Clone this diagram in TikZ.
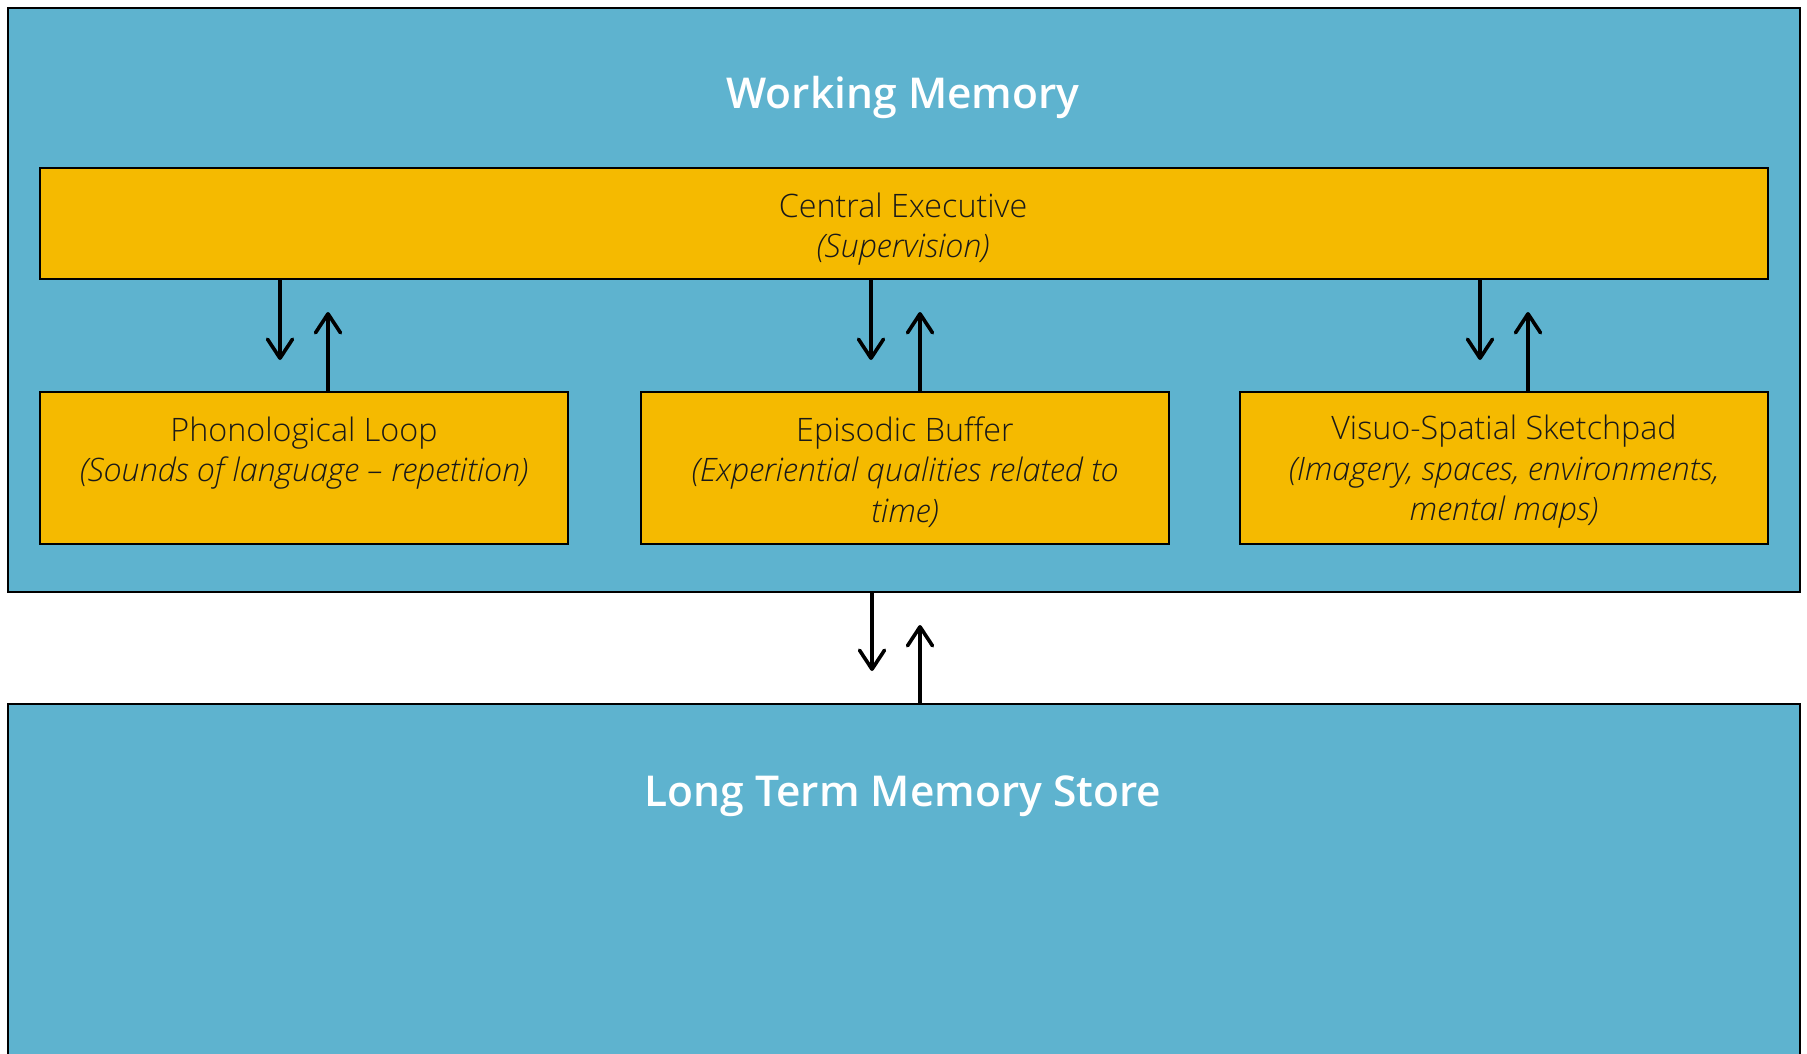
\documentclass[tikz,border=0pt]{standalone}
\usepackage{fontspec}
\setmainfont{Open Sans}
\newfontfamily\lightfont{Open Sans Light}
\newfontfamily\semifont{Open Sans Semibold}
\usetikzlibrary{arrows.meta}
\definecolor{wmblue}{RGB}{94,179,207}
\definecolor{boxyellow}{RGB}{245,186,0}
\definecolor{inktext}{RGB}{25,25,25}
\begin{document}
\begin{tikzpicture}[x=1pt,y=-1pt,
  outerbox/.style={draw=black, line width=2pt, fill=wmblue, inner sep=0pt, minimum width=1792pt},
  compbox/.style={draw=black, line width=2pt, fill=boxyellow, inner sep=0pt},
  comptext/.style={align=center, inner sep=0pt, text=inktext, font=\lightfont\fontsize{32.3}{40.5}\selectfont},
  titletext/.style={text=white, inner sep=0pt, font=\semifont\fontsize{42.5}{48}\selectfont},
  flow/.style={line width=3.6pt, -{Straight Barb[length=19pt,width=25pt,line width=3.6pt,round]}}]
\useasboundingbox (0,0) rectangle (1807,1054);
\clip (0,0) rectangle (1807,1054);
% outer boxes
\node[outerbox, minimum height=584pt] (wm) at (904,300) {};
\node[outerbox, minimum height=380pt] (ltm) at (904,894) {};
\node[titletext] (wmt) at (903,97) {Working Memory};
\node[titletext] (ltmt) at (903,796) {Long Term Memory Store};
% components
\node[compbox, minimum width=1728pt, minimum height=111pt] (ce) at (904,223.5) {};
\node[compbox, minimum width=528pt, minimum height=152pt] (pl) at (304,468) {};
\node[compbox, minimum width=528pt, minimum height=152pt] (eb) at (905,468) {};
\node[compbox, minimum width=528pt, minimum height=152pt] (vss) at (1504,468) {};
\node[comptext] (cet) at (903,229) {Central Executive\\\textit{(Supervision)}};
\node[comptext] (plt) at (304,453) {Phonological Loop\\\textit{(Sounds of language – repetition)}};
\node[comptext] (ebt) at (905,472) {Episodic Buffer\\\textit{(Experiential qualities related to}\\\textit{time)}};
\node[comptext] (vsst) at (1504,472) {Visuo-Spatial Sketchpad\\\textit{(Imagery, spaces, environments,}\\\textit{mental maps)}};
% arrow free ends
\coordinate (d1) at (280,360);
\coordinate (u1) at (328,312);
\coordinate (d2) at (871,360);
\coordinate (u2) at (920,312);
\coordinate (d3) at (1480,360);
\coordinate (u3) at (1528,312);
\coordinate (d4) at (872,671);
\coordinate (u4) at (920,625);
% arrows
\draw[flow] (ce.south -| d1) -- (d1);
\draw[flow] (pl.north -| u1) -- (u1);
\draw[flow] (ce.south -| d2) -- (d2);
\draw[flow] (eb.north -| u2) -- (u2);
\draw[flow] (ce.south -| d3) -- (d3);
\draw[flow] (vss.north -| u3) -- (u3);
\draw[flow] (wm.south -| d4) -- (d4);
\draw[flow] (ltm.north -| u4) -- (u4);
\end{tikzpicture}
\end{document}
